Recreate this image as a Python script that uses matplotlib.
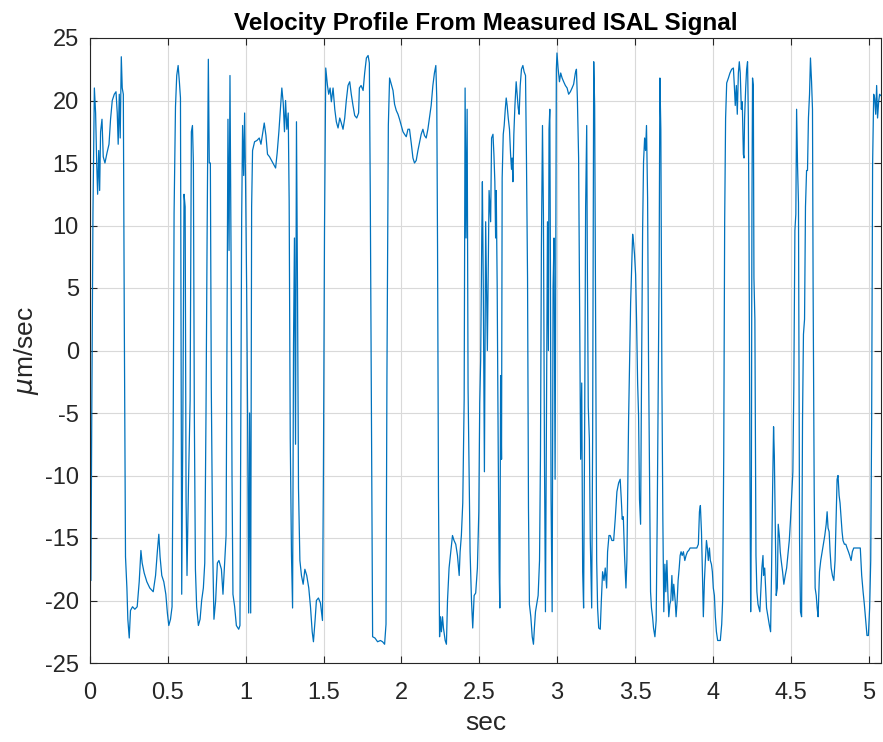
import matplotlib
matplotlib.use("Agg")
import matplotlib.pyplot as plt
import numpy as np

plt.rcParams['font.family'] = ['Liberation Sans', 'DejaVu Sans']
plt.rcParams['axes.unicode_minus'] = False

# time (sec), velocity (um/sec)
t_seg1 = [0.000, 0.006, 0.011, 0.019, 0.028, 0.036, 0.043, 0.049, 0.056, 0.062, 0.068, 0.077, 0.085, 0.096,
          0.109, 0.122, 0.132, 0.143, 0.156, 0.167, 0.175, 0.181, 0.188, 0.194, 0.201, 0.207, 0.214, 0.220,
          0.228, 0.237, 0.243, 0.252, 0.260, 0.273, 0.288, 0.303, 0.316, 0.327, 0.335, 0.348, 0.365, 0.384,
          0.406, 0.421, 0.433, 0.442, 0.450, 0.461, 0.474, 0.487, 0.497, 0.506, 0.517, 0.527, 0.534, 0.540,
          0.549, 0.557, 0.566, 0.574, 0.581, 0.585, 0.589, 0.596, 0.604, 0.611, 0.617, 0.623, 0.632, 0.643,
          0.651, 0.658, 0.664, 0.670, 0.677, 0.685, 0.696, 0.707, 0.717, 0.728, 0.737, 0.745, 0.752, 0.760,
          0.766, 0.773, 0.779, 0.788, 0.796, 0.807, 0.818, 0.828]
v_seg1 = [-18.4, -18.4, -6, 11, 21, 19, 15, 12.5, 16, 12.8, 17.5, 18.5, 15.5, 15,
          15.8, 16.5, 18.5, 20, 20.5, 20.7, 19, 16.5, 20.5, 17, 23.5, 21, 20.5, 3,
          -16.5, -19, -21.5, -23, -20.8, -20.5, -20.7, -20.5, -18.5, -16, -17, -17.8, -18.5, -19,
          -19.3, -18, -16, -14.7, -16.5, -18, -18.5, -19.5, -21, -22, -21.5, -20.5, -7, 11,
          19.5, 22, 22.8, 21.5, 20.2, 0, -19.5, -6.5, 12.5, 11.5, -12, -18, -11, -4,
          17.5, 18, 15, -5, -17.5, -20.5, -22, -21.5, -20, -19, -17, -5, 9, 23.3,
          15, 15, -3, -16, -21.5, -20, -17, -16.8]

t_seg2 = [0.844, 0.854, 0.865, 0.874, 0.880, 0.886, 0.893, 0.899, 0.906, 0.912, 0.918, 0.929, 0.940, 0.955,
          0.963, 0.968, 0.974, 0.980, 0.987, 0.993, 0.999, 1.006, 1.012, 1.019, 1.025, 1.032, 1.038, 1.044,
          1.057, 1.072, 1.087, 1.098, 1.108, 1.119, 1.130, 1.140, 1.153, 1.166, 1.179, 1.192, 1.202, 1.213,
          1.224, 1.232, 1.241, 1.249, 1.256, 1.264, 1.273, 1.279, 1.286, 1.294, 1.301, 1.307, 1.313, 1.320,
          1.326, 1.333, 1.339, 1.348, 1.358, 1.369, 1.380, 1.392, 1.405, 1.416, 1.427, 1.435, 1.446, 1.454,
          1.467, 1.480, 1.493, 1.499, 1.506, 1.514, 1.525, 1.533, 1.542, 1.550, 1.561, 1.572, 1.582, 1.593,
          1.604, 1.614, 1.625, 1.636, 1.646, 1.657, 1.668, 1.678, 1.689, 1.700, 1.713, 1.725]
v_seg2 = [-17.5, -19.5, -17, -14.8, 1, 18.5, 8, 22, 7.5, -10, -19.5, -20.5, -22, -22.3,
          -22, -7, 10.5, 18, 14, 19, 13.5, 5, -5, -21, -5, -21, 11.5, 16,
          16.7, 16.8, 17, 16.5, 17.3, 18.2, 17.2, 15.7, 15.5, 15.2, 14.9, 14.6, 15.8, 17.5,
          19.5, 21, 19.8, 17.5, 20, 17.7, 19, 12, -7, -16.4, -20.6, 0.5, 9, -7.5,
          18.3, 4, -11, -16.8, -18, -18.7, -17.5, -18, -19, -20.5, -22.5, -23.3, -21.5, -20,
          -19.8, -20.2, -21.6, -10, 9.5, 22.6, 21.2, 20.5, 21, 19.9, 21, 19.3, 18.3, 17.8,
          18.6, 18.2, 17.7, 18.6, 20, 21.2, 21.5, 20.5, 19.6, 18.8, 18.6, 19]

t_seg3 = [1.730, 1.741, 1.754, 1.764, 1.775, 1.786, 1.794, 1.800, 1.809, 1.815, 1.830, 1.847, 1.865, 1.879,
          1.892, 1.901, 1.907, 1.916, 1.924, 1.935, 1.946, 1.956, 1.967, 1.978, 1.988, 1.999, 2.010, 2.020,
          2.031, 2.042, 2.052, 2.063, 2.074, 2.084, 2.095, 2.106, 2.116, 2.127, 2.138, 2.148, 2.159, 2.170,
          2.180, 2.191, 2.202, 2.212, 2.221, 2.227, 2.232, 2.238, 2.245, 2.251, 2.257, 2.264, 2.270, 2.281,
          2.289, 2.296, 2.306, 2.317, 2.328, 2.338, 2.349, 2.360, 2.371, 2.377, 2.385, 2.394, 2.403, 2.409,
          2.415, 2.422, 2.428, 2.435, 2.441, 2.450, 2.458, 2.467, 2.477, 2.488, 2.497, 2.503, 2.509, 2.516,
          2.520, 2.526, 2.533, 2.541, 2.552, 2.563, 2.573]
v_seg3 = [21, 21.2, 20.8, 22.2, 23.4, 23.6, 23, 12.5, -7.8, -22.9, -23, -23.3, -23.2, -23.3,
          -23.5, -21.9, -2, 18, 21.8, 21.3, 20.8, 19.7, 19.2, 18.9, 18.5, 18, 17.5, 17.3,
          17.1, 17.7, 17.7, 16.6, 15.4, 15, 15.2, 16, 16.6, 17.3, 17.7, 17.2, 17, 17.7,
          18.6, 19.6, 21.2, 22.2, 22.8, 20.2, 8.3, -11.6, -22.9, -21.3, -22.5, -21.3, -22.2, -23.2,
          -23.5, -20, -17.4, -16.1, -14.8, -15.2, -15.5, -16.4, -18, -16.1, -14.8, -12.2, -3.9, 21,
          9, 19.3, -3, -9.7, -16.1, -20, -22.2, -19.6, -19.4, -17.4, -12.9, -4.2, -0.7, 9,
          13.5, 4.8, -9.7, 10.3, 0, 12.8, 10.3]

t_seg4 = [2.579, 2.588, 2.594, 2.600, 2.605, 2.609, 2.615, 2.622, 2.628, 2.632, 2.637, 2.643, 2.647, 2.654,
          2.660, 2.667, 2.673, 2.679, 2.686, 2.694, 2.701, 2.707, 2.711, 2.716, 2.722, 2.729, 2.737, 2.743,
          2.750, 2.756, 2.763, 2.771, 2.780, 2.788, 2.797, 2.803, 2.810, 2.816, 2.822, 2.831, 2.840, 2.848,
          2.854, 2.861, 2.869, 2.878, 2.887, 2.893, 2.899, 2.906, 2.912, 2.919, 2.925, 2.931, 2.938, 2.944,
          2.948, 2.953, 2.957, 2.961, 2.968, 2.974, 2.980, 2.987, 2.991, 2.995, 2.999, 3.006, 3.015, 3.023,
          3.032, 3.042, 3.053, 3.064, 3.074, 3.085, 3.096, 3.106, 3.117, 3.124, 3.130, 3.138, 3.145, 3.151,
          3.158, 3.164, 3.170, 3.177, 3.183, 3.190, 3.194, 3.200, 3.207, 3.213, 3.222, 3.228, 3.235, 3.241,
          3.247, 3.254, 3.260, 3.267, 3.277, 3.284, 3.292, 3.301, 3.309, 3.318, 3.324, 3.333, 3.341, 3.352,
          3.363, 3.373, 3.384, 3.395, 3.405, 3.412, 3.418, 3.425, 3.433, 3.442, 3.448, 3.454]
v_seg4 = [17, 17.3, 15.7, 13.5, 9, 12.8, 5.1, -8.7, -17.7, -20.6, -2, -8.7, 13.8, 17.3,
          18, 19.3, 20.2, 19.6, 18.6, 17.7, 15.7, 14.5, 15.4, 13.5, 17.3, 19.6, 21.5, 20.5,
          19.4, 18.9, 21.2, 22.5, 22.8, 22.3, 22, 15.4, 5.8, -12.6, -20.3, -21.3, -22.9, -23.5,
          -22.2, -20.9, -20.3, -19.6, -16.8, -8.4, 8.3, 18, 10.9, -9, -20.9, -6.5, 10.3, 0,
          17.7, 19.3, 6.8, -11.9, -20.9, 5.1, 9, -10.3, 5.8, 22.5, 23.8, 22.6, 21.5, 22.2,
          21.8, 21.5, 21.2, 21, 20.5, 20.7, 21, 21.3, 22.2, 22.5, 20.2, 15.4, 2.5, -8.7,
          -2.6, -17.7, -20.6, -5.5, 11.5, 18, 7.1, -4.5, -7.1, -15.2, -20.6, -7.1, 23.1, 19.6,
          2.5, -16.8, -20.6, -22.2, -22.3, -20, -17.7, -18.4, -17.4, -19, -16.1, -14.8, -14.8, -15.2,
          -15.2, -13.5, -11.3, -10.6, -10.3, -11.9, -13.5, -13.3, -16.4, -19, -16.8, -10.3]

t_seg5 = [3.459, 3.465, 3.472, 3.478, 3.485, 3.491, 3.497, 3.504, 3.510, 3.517, 3.523, 3.529, 3.536, 3.542,
          3.549, 3.555, 3.562, 3.568, 3.574, 3.581, 3.587, 3.594, 3.600, 3.606, 3.613, 3.619, 3.628, 3.636,
          3.643, 3.649, 3.655, 3.660, 3.666, 3.673, 3.679, 3.685, 3.692, 3.698, 3.705, 3.711, 3.717, 3.724,
          3.730, 3.737, 3.743, 3.749, 3.758, 3.764, 3.771, 3.777, 3.784, 3.790, 3.796, 3.803, 3.811, 3.820,
          3.828, 3.837, 3.845, 3.854, 3.875, 3.897, 3.907, 3.914, 3.920, 3.927, 3.933, 3.939, 3.946, 3.952,
          3.959, 3.965, 3.971, 3.978, 3.984, 3.991, 3.997, 4.003, 4.010, 4.016, 4.023, 4.031, 4.040, 4.048,
          4.057, 4.063, 4.070, 4.076, 4.082, 4.089, 4.100, 4.110, 4.121, 4.132, 4.138, 4.144, 4.151, 4.157,
          4.164, 4.170, 4.176, 4.183, 4.189, 4.196, 4.200, 4.204, 4.211, 4.217, 4.223, 4.228, 4.232, 4.238,
          4.243, 4.247, 4.251, 4.255, 4.260, 4.264, 4.270, 4.277, 4.283, 4.290, 4.296, 4.302, 4.309, 4.315,
          4.322]
v_seg5 = [-5.5, -1.3, 3.8, 6.4, 9.3, 8.6, 7.7, 6.1, 2.5, -2.6, -5.2, -11.9, -13.9, -2.3,
          9.6, 15.1, 17, 16, 18, 12.2, -0.7, -10.3, -19.3, -20.6, -21.3, -22.2, -22.9, -21.6,
          -13.2, -3.9, 6.4, 21.8, 17.7, -2.6, -13.5, -20.9, -17.1, -19.3, -16.8, -19.3, -21.3, -20.3,
          -20, -18, -20, -18.7, -20, -21.3, -20, -18.4, -17.4, -16.4, -16.1, -16.4, -16.1, -16.8,
          -16.4, -16.1, -16, -15.8, -15.8, -15.8, -15.5, -12.9, -12.4, -14.5, -17.7, -21.3, -18.4, -16.8,
          -15.2, -15.8, -16.8, -15.8, -16.8, -17.1, -17.7, -19, -19.6, -21.3, -22.5, -23.2, -23.2, -23.2,
          -21.9, -20, -8.4, 10.3, 18.6, 21.4, 21.8, 22.2, 22.5, 22.6, 21.2, 19.6, 21.2, 18.9,
          22.2, 23.1, 22.2, 19.3, 19.9, 15.7, 15.4, 18.6, 21, 22.5, 23.1, 18.6, 10.6, -9,
          -20.9, -13.9, 10.9, 21.8, 21.2, 5.8, 2.5, -16.4, -19.3, -20.3, -20.6, -20.9, -19, -17.4,
          -16.4]

t_seg6 = [4.326, 4.333, 4.339, 4.345, 4.354, 4.362, 4.371, 4.377, 4.384, 4.390, 4.395, 4.401, 4.407, 4.414,
          4.420, 4.427, 4.433, 4.439, 4.448, 4.456, 4.465, 4.474, 4.482, 4.491, 4.499, 4.508, 4.514, 4.520,
          4.527, 4.533, 4.538, 4.544, 4.550, 4.557, 4.563, 4.570, 4.576, 4.582, 4.589, 4.595, 4.602, 4.608,
          4.614, 4.621, 4.627, 4.634, 4.640, 4.644, 4.651, 4.657, 4.664, 4.670, 4.676, 4.685, 4.693, 4.702,
          4.710, 4.719, 4.728, 4.734, 4.740, 4.747, 4.753, 4.760, 4.768, 4.777, 4.785, 4.792, 4.798, 4.804,
          4.811, 4.817, 4.824, 4.830, 4.836, 4.845, 4.854, 4.862, 4.871, 4.879, 4.888, 4.896, 4.905, 4.922,
          4.947, 4.956, 4.965, 4.973, 4.982, 4.990, 4.999, 5.007, 5.014, 5.020, 5.026, 5.033, 5.039, 5.046,
          5.052, 5.058, 5.065, 5.071, 5.078]
v_seg6 = [-18, -17.4, -19, -20.6, -21.3, -21.9, -22.5, -17.7, -11, -6.1, -8.4, -14.2, -19.6, -19,
          -13.9, -14.8, -16.1, -16.8, -17.7, -18.7, -18, -17.4, -16.4, -15.2, -13.5, -11.3, -9.7, -3,
          9.6, 10.9, 19.3, 14.8, 11.8, -15.2, -20.9, -21.3, -5.5, 1.3, 2.5, 11.5, 14.4, 14.4,
          18.6, 20.5, 23.4, 21.5, 19.3, 5.1, -11.3, -19, -19.6, -20.6, -21.3, -17.7, -16.8, -16.1,
          -15.5, -14.8, -13.9, -12.9, -14.2, -14.5, -16.1, -17.4, -18, -18.4, -16.8, -13.2, -10.3, -10,
          -11.6, -12.2, -13.5, -14.5, -15.2, -15.5, -15.5, -15.8, -16.1, -16.4, -16.8, -16.1, -15.8, -15.8,
          -15.8, -18, -19.3, -20.3, -21.6, -22.8, -22.8, -20.6, -16.8, -5.5, 14.8, 20.5, 20.2, 18.9,
          21.2, 18.6, 19.9, 20.5, 20.4]

t = np.array(t_seg1 + t_seg2 + t_seg3 + t_seg4 + t_seg5 + t_seg6)
v = np.array(v_seg1 + v_seg2 + v_seg3 + v_seg4 + v_seg5 + v_seg6)

x_ticks = [0, 0.5, 1, 1.5, 2, 2.5, 3, 3.5, 4, 4.5, 5]
x_tick_labels = ['0', '0.5', '1', '1.5', '2', '2.5', '3', '3.5', '4', '4.5', '5']
y_ticks = [-25, -20, -15, -10, -5, 0, 5, 10, 15, 20, 25]

fig = plt.figure(figsize=(8.83, 7.42), dpi=100)
ax = fig.add_axes([90 / 883, 1 - 663 / 742, (881 - 90) / 883, (663 - 38) / 742])
ax.plot(t, v, color=(0, 0.447, 0.741), linewidth=0.9)
ax.set_xlim(0, 5.08)
ax.set_ylim(-25, 25)
ax.set_xticks(x_ticks)
ax.set_xticklabels(x_tick_labels)
ax.set_yticks(y_ticks)
ax.grid(True, color='#d9d9d9', linewidth=0.8)
ax.set_axisbelow(True)
ax.tick_params(direction='in', top=True, right=True, labelsize=17, colors='#262626', length=5)
ax.tick_params(axis='x', pad=14)
ax.tick_params(axis='y', pad=8)
for s in ax.spines.values():
    s.set_color('#262626')
    s.set_linewidth(0.8)
ax.set_title('Velocity Profile From Measured ISAL Signal', fontsize=17.5, fontweight='bold', pad=6)
ax.set_xlabel('sec', fontsize=19, color='#262626', labelpad=5)
ax.set_ylabel(r'$\mu$m/sec', fontsize=19, color='#262626', labelpad=3)
fig.savefig('out.png', dpi=100)
